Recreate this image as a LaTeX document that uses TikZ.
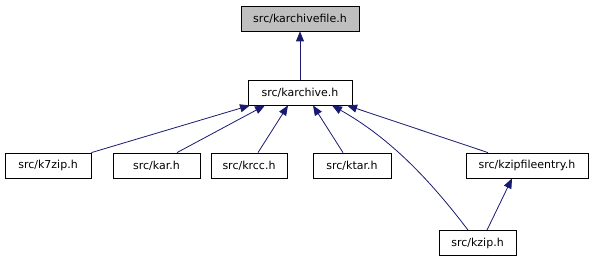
\documentclass[tikz,border=0pt]{standalone}
\usepackage{fontspec}
\setmainfont{DejaVu Sans}
\usepackage{tikz}
\usetikzlibrary{arrows.meta,positioning}

\definecolor{edgeblue}{HTML}{191970}
\definecolor{rootgray}{HTML}{BFBFBF}

\tikzset{
    filebox/.style={draw=black, line width=0.8pt, fill=white, minimum height=25pt,
        inner xsep=0pt, font=\fontsize{11}{13}\selectfont},
    dep/.style={draw=edgeblue, line width=0.8pt, -{Triangle[length=10pt,width=8pt]}},
}

\begin{document}
\begin{tikzpicture}[x=1pt, y=-1pt]
    \useasboundingbox (0,0) rectangle (594,261);

    % The header and the one that includes it
    \node[filebox, fill=rootgray, minimum width=118pt] (karchivefile) at (300,18.5) {src/karchivefile.h};
    \node[filebox, minimum width=104pt] (karchive) at (300,92.5) {src/karchive.h};

    % Second row of headers
    \node[filebox, minimum width=86pt] (k7zip) at (48,165.5) {src/k7zip.h};
    \node[filebox, minimum width=87pt] (kar) at (156.5,165.5) {src/kar.h};
    \node[filebox, minimum width=76pt] (krcc) at (249,165.5) {src/krcc.h};
    \node[filebox, minimum width=78pt] (ktar) at (352,165.5) {src/ktar.h};
    \node[filebox, minimum width=122pt] (kzipfileentry) at (527,165.5) {src/kzipfileentry.h};
    \node[filebox, minimum width=77pt] (kzip) at (477.5,243) {src/kzip.h};

    % Include edges
    \draw[dep] (karchive) -- (karchivefile);
    \draw[dep] (k7zip.north east) -- ([xshift=-50pt]karchive.south);
    \draw[dep] ([xshift=20.5pt]kar.north) -- ([xshift=-35pt]karchive.south);
    \draw[dep] ([xshift=9pt]krcc.north) -- ([xshift=-12pt]karchive.south);
    \draw[dep] ([xshift=-9pt]ktar.north) -- ([xshift=13pt]karchive.south);
    \draw[dep] ([xshift=-39pt]kzipfileentry.north) -- ([xshift=47pt]karchive.south);
    \draw[dep] ([xshift=-9.5pt]kzip.north) .. controls (430,180) and (390,138) .. ([xshift=32pt]karchive.south);
    \draw[dep] ([xshift=9.5pt]kzip.north) -- ([xshift=-15pt]kzipfileentry.south);
\end{tikzpicture}
\end{document}
